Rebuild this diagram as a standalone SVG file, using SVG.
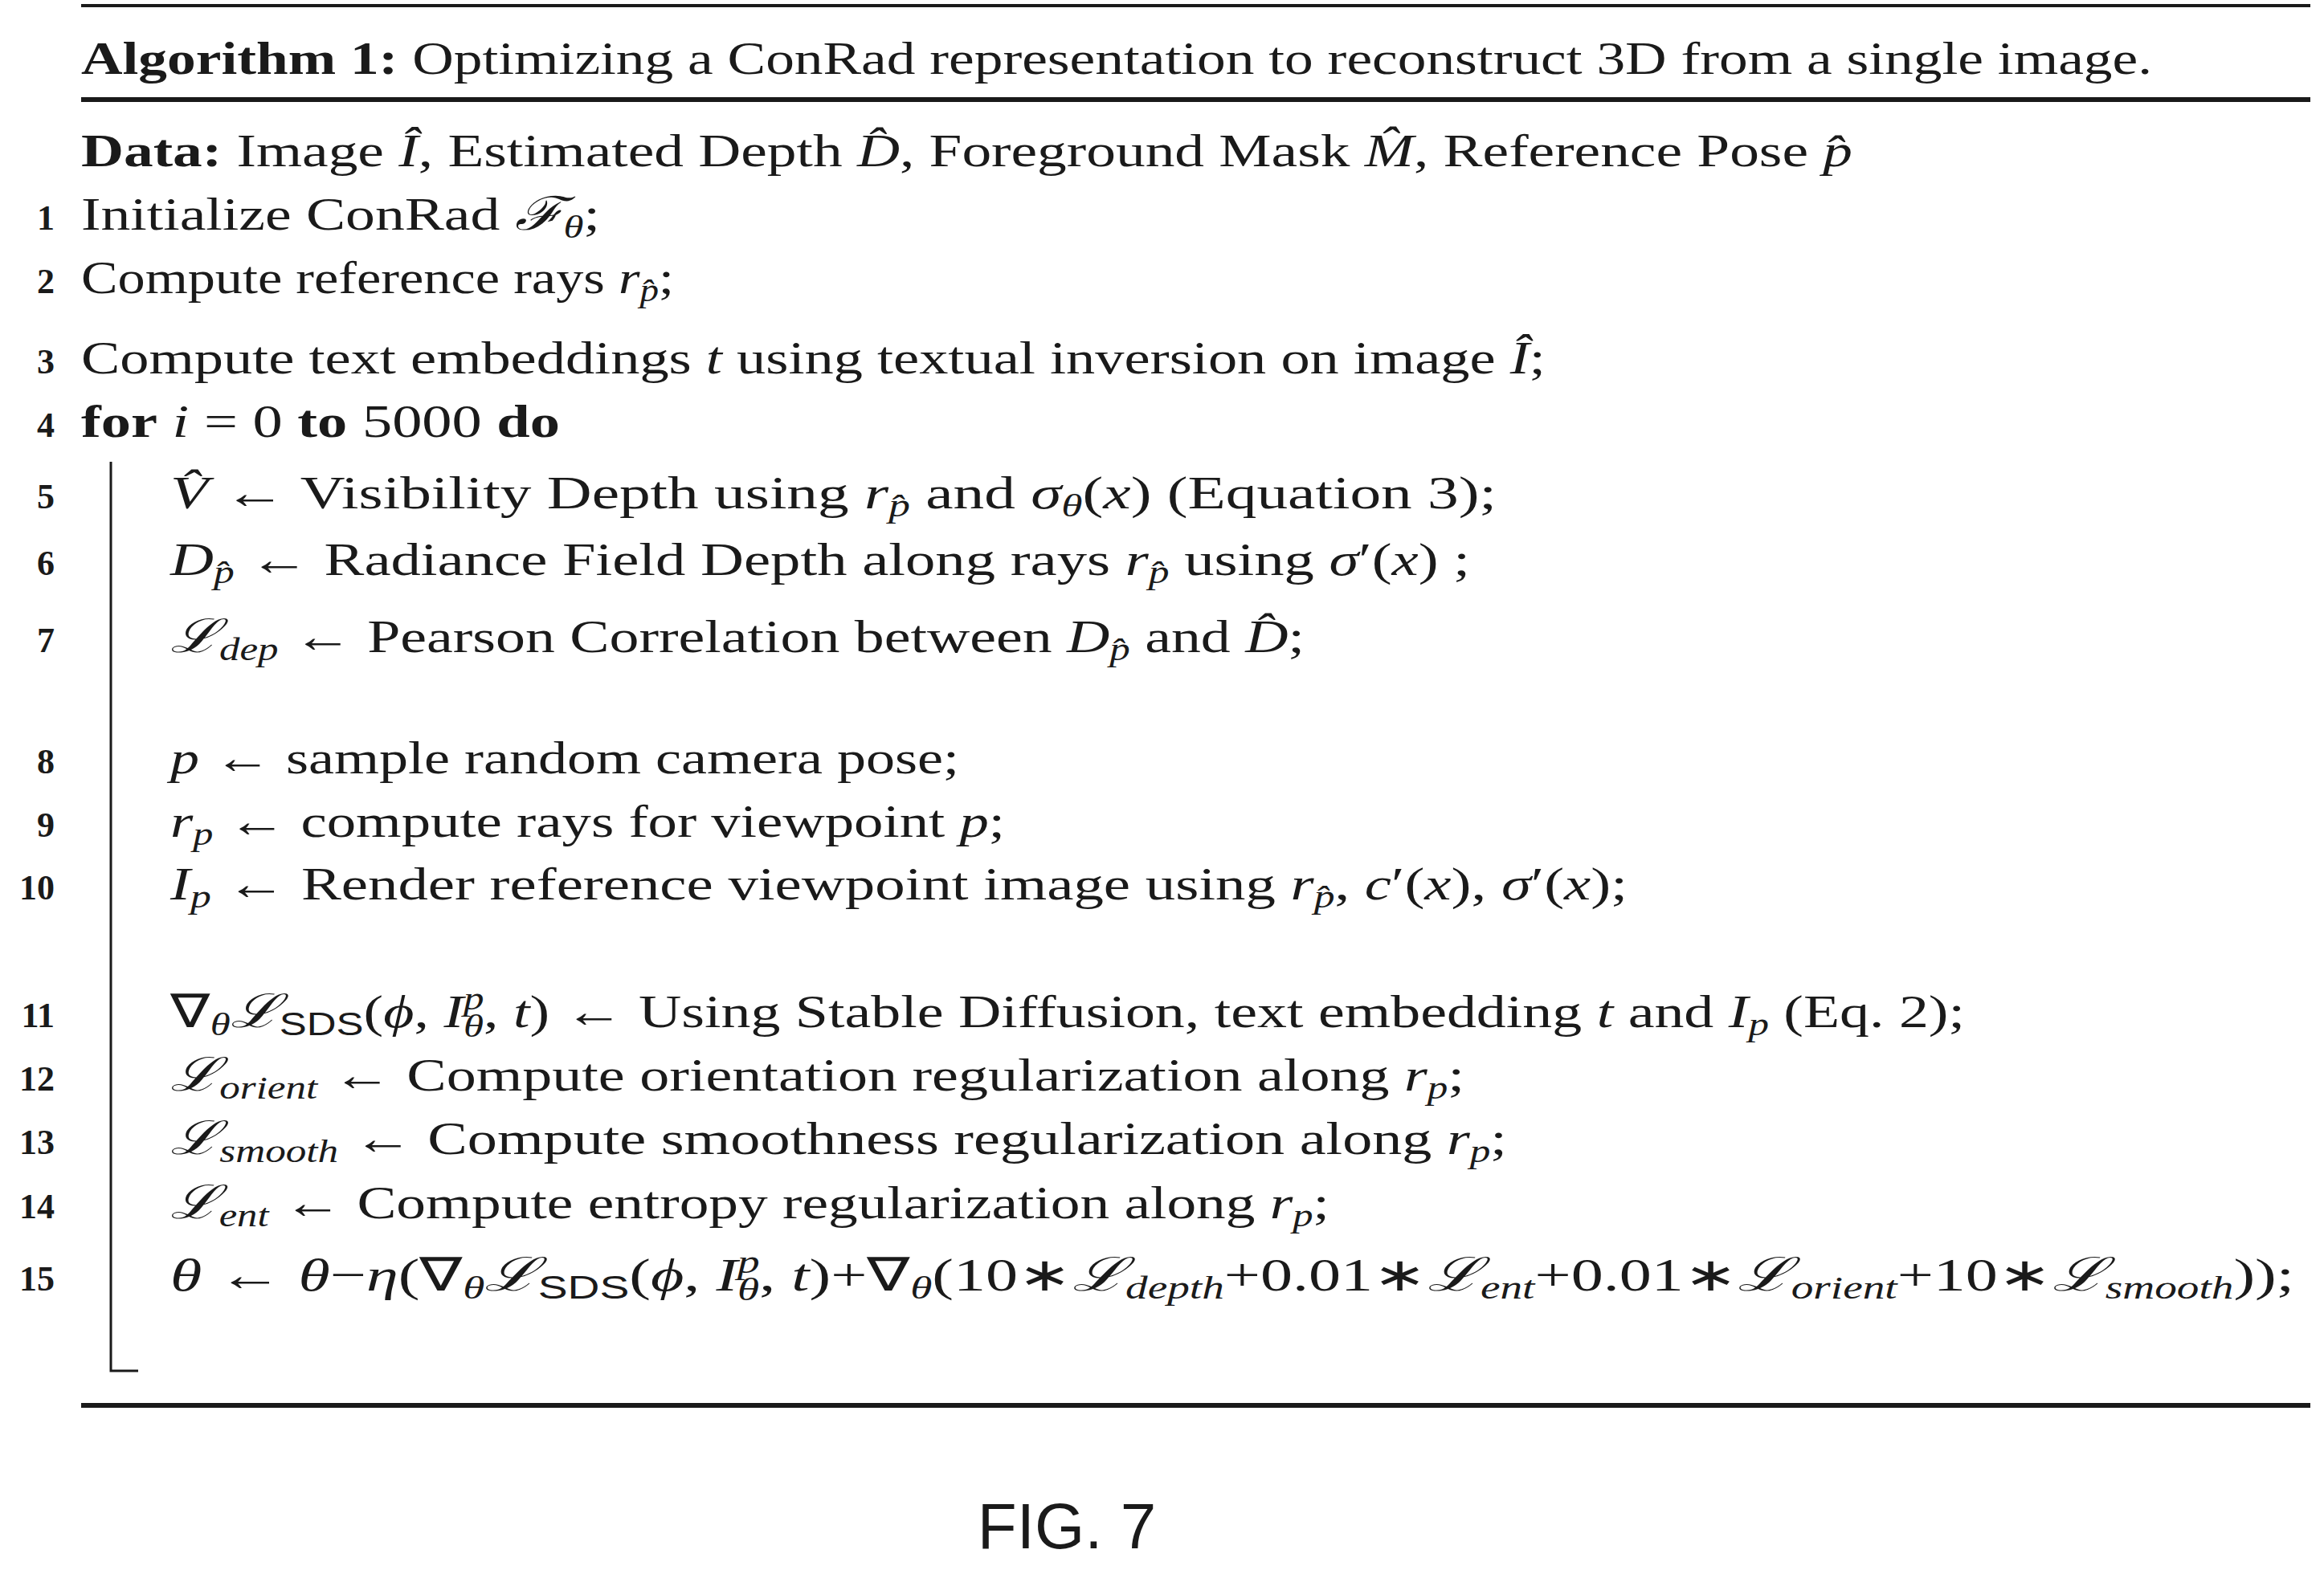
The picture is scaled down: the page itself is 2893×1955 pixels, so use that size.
<svg xmlns="http://www.w3.org/2000/svg" width="2893" height="1955" viewBox="0 0 2893 1955">
<style>
text{font-family:"Liberation Serif","Times New Roman",serif;font-size:58px;fill:#1a1a1a}
.n{font-weight:bold;font-size:44px;text-anchor:end}
.b{font-weight:bold}
.i{font-style:italic}
.s{font-size:40px}
.rule{stroke:#1a1a1a;fill:none}
.fig{font-family:"Liberation Sans",Arial,sans-serif;font-size:80px;text-anchor:middle}
</style>
<rect width="2893" height="1955" fill="#fff"/>
<line class="rule" x1="101" y1="7" x2="2876" y2="7" stroke-width="4"/>
<line class="rule" x1="101" y1="124" x2="2876" y2="124" stroke-width="6"/>
<line class="rule" x1="101" y1="1750" x2="2876" y2="1750" stroke-width="6"/>
<path class="rule" d="M138 575 V1707 H172" stroke-width="3"/>

<text x="101" y="92" textLength="2578" lengthAdjust="spacingAndGlyphs"><tspan class="b">Algorithm 1:</tspan> Optimizing a ConRad representation to reconstruct 3D from a single image.</text>
<text x="101" y="207" textLength="2205" lengthAdjust="spacingAndGlyphs"><tspan class="b">Data:</tspan> Image <tspan class="i">Î</tspan>, Estimated Depth <tspan class="i">D̂</tspan>, Foreground Mask <tspan class="i">M̂</tspan>, Reference Pose <tspan class="i">p̂</tspan></text>

<text class="n" x="68" y="286">1</text>
<text x="101" y="286" textLength="646" lengthAdjust="spacingAndGlyphs">Initialize ConRad  <tspan class="i">ℱ</tspan><tspan class="i s" dy="10">θ</tspan><tspan dy="-10">;</tspan></text>
<text class="n" x="68" y="365">2</text>
<text x="101" y="365" textLength="738" lengthAdjust="spacingAndGlyphs">Compute reference rays <tspan class="i">r</tspan><tspan class="i s" dy="10">p̂</tspan><tspan dy="-10">;</tspan></text>
<text class="n" x="68" y="465">3</text>
<text x="101" y="465" textLength="1823" lengthAdjust="spacingAndGlyphs">Compute text embeddings <tspan class="i">t</tspan> using textual inversion on image <tspan class="i">Î</tspan>;</text>
<text class="n" x="68" y="544">4</text>
<text x="101" y="544" textLength="596" lengthAdjust="spacingAndGlyphs"><tspan class="b">for</tspan> <tspan class="i">i</tspan> = 0 <tspan class="b">to</tspan> 5000 <tspan class="b">do</tspan></text>

<text class="n" x="68" y="633">5</text>
<text x="212" y="633" textLength="1651" lengthAdjust="spacingAndGlyphs"><tspan class="i">V̂</tspan> ← Visibility Depth using <tspan class="i">r</tspan><tspan class="i s" dy="10">p̂</tspan><tspan dy="-10"> and </tspan><tspan class="i">σ</tspan><tspan class="i s" dy="10">θ</tspan><tspan dy="-10">(</tspan><tspan class="i">x</tspan>) (Equation 3);</text>
<text class="n" x="68" y="716">6</text>
<text x="212" y="716" textLength="1618" lengthAdjust="spacingAndGlyphs"><tspan class="i">D</tspan><tspan class="i s" dy="10">p̂</tspan><tspan dy="-10"> ← Radiance Field Depth along rays </tspan><tspan class="i">r</tspan><tspan class="i s" dy="10">p̂</tspan><tspan dy="-10"> using </tspan><tspan class="i">σ</tspan>′(<tspan class="i">x</tspan>) ;</text>
<text class="n" x="68" y="812">7</text>
<text x="212" y="812" textLength="1412" lengthAdjust="spacingAndGlyphs"><tspan class="i">ℒ</tspan><tspan class="i s" dy="10">dep</tspan><tspan dy="-10"> ← Pearson Correlation between </tspan><tspan class="i">D</tspan><tspan class="i s" dy="10">p̂</tspan><tspan dy="-10"> and </tspan><tspan class="i">D̂</tspan>;</text>

<text class="n" x="68" y="963">8</text>
<text x="212" y="963" textLength="982" lengthAdjust="spacingAndGlyphs"><tspan class="i">p</tspan> ← sample random camera pose;</text>
<text class="n" x="68" y="1042">9</text>
<text x="212" y="1042" textLength="1039" lengthAdjust="spacingAndGlyphs"><tspan class="i">r</tspan><tspan class="i s" dy="10">p</tspan><tspan dy="-10"> ← compute rays for viewpoint </tspan><tspan class="i">p</tspan>;</text>
<text class="n" x="68" y="1120">10</text>
<text x="212" y="1120" textLength="1814" lengthAdjust="spacingAndGlyphs"><tspan class="i">I</tspan><tspan class="i s" dy="10">p</tspan><tspan dy="-10"> ← Render reference viewpoint image using </tspan><tspan class="i">r</tspan><tspan class="i s" dy="10">p̂</tspan><tspan dy="-10">, </tspan><tspan class="i">c</tspan>′(<tspan class="i">x</tspan>), <tspan class="i">σ</tspan>′(<tspan class="i">x</tspan>);</text>

<text class="n" x="68" y="1279">11</text>
<text x="212" y="1279" textLength="2234" lengthAdjust="spacingAndGlyphs">∇<tspan class="i s" dy="10">θ</tspan><tspan class="i" dy="-10">ℒ</tspan><tspan class="s" font-family="Liberation Sans" dy="10">SDS</tspan><tspan dy="-10">(</tspan><tspan class="i">ϕ</tspan>, <tspan class="i">I</tspan><tspan class="i s" dy="-22">p</tspan><tspan class="i s" dx="-20" dy="34">θ</tspan><tspan dy="-12">, </tspan><tspan class="i">t</tspan>) ← Using Stable Diffusion, text embedding <tspan class="i">t</tspan> and <tspan class="i">I</tspan><tspan class="i s" dy="10">p</tspan><tspan dy="-10"> (Eq. 2);</tspan></text>
<text class="n" x="68" y="1358">12</text>
<text x="212" y="1358" textLength="1611" lengthAdjust="spacingAndGlyphs"><tspan class="i">ℒ</tspan><tspan class="i s" dy="10">orient</tspan><tspan dy="-10"> ← Compute orientation regularization along </tspan><tspan class="i">r</tspan><tspan class="i s" dy="10">p</tspan><tspan dy="-10">;</tspan></text>
<text class="n" x="68" y="1437">13</text>
<text x="212" y="1437" textLength="1664" lengthAdjust="spacingAndGlyphs"><tspan class="i">ℒ</tspan><tspan class="i s" dy="10">smooth</tspan><tspan dy="-10"> ← Compute smoothness regularization along </tspan><tspan class="i">r</tspan><tspan class="i s" dy="10">p</tspan><tspan dy="-10">;</tspan></text>
<text class="n" x="68" y="1517">14</text>
<text x="212" y="1517" textLength="1443" lengthAdjust="spacingAndGlyphs"><tspan class="i">ℒ</tspan><tspan class="i s" dy="10">ent</tspan><tspan dy="-10"> ← Compute entropy regularization along </tspan><tspan class="i">r</tspan><tspan class="i s" dy="10">p</tspan><tspan dy="-10">;</tspan></text>
<text class="n" x="68" y="1607">15</text>
<text x="212" y="1607" textLength="2644" lengthAdjust="spacingAndGlyphs"><tspan class="i">θ</tspan> ← <tspan class="i">θ</tspan>−<tspan class="i">η</tspan>(∇<tspan class="i s" dy="10">θ</tspan><tspan class="i" dy="-10">ℒ</tspan><tspan class="s" font-family="Liberation Sans" dy="10">SDS</tspan><tspan dy="-10">(</tspan><tspan class="i">ϕ</tspan>, <tspan class="i">I</tspan><tspan class="i s" dy="-22">p</tspan><tspan class="i s" dx="-20" dy="34">θ</tspan><tspan dy="-12">, </tspan><tspan class="i">t</tspan>)+∇<tspan class="i s" dy="10">θ</tspan><tspan dy="-10">(10∗</tspan><tspan class="i">ℒ</tspan><tspan class="i s" dy="10">depth</tspan><tspan dy="-10">+0.01∗</tspan><tspan class="i">ℒ</tspan><tspan class="i s" dy="10">ent</tspan><tspan dy="-10">+0.01∗</tspan><tspan class="i">ℒ</tspan><tspan class="i s" dy="10">orient</tspan><tspan dy="-10">+10∗</tspan><tspan class="i">ℒ</tspan><tspan class="i s" dy="10">smooth</tspan><tspan dy="-10">));</tspan></text>

<text class="fig" x="1328" y="1928">FIG. 7</text>
</svg>
